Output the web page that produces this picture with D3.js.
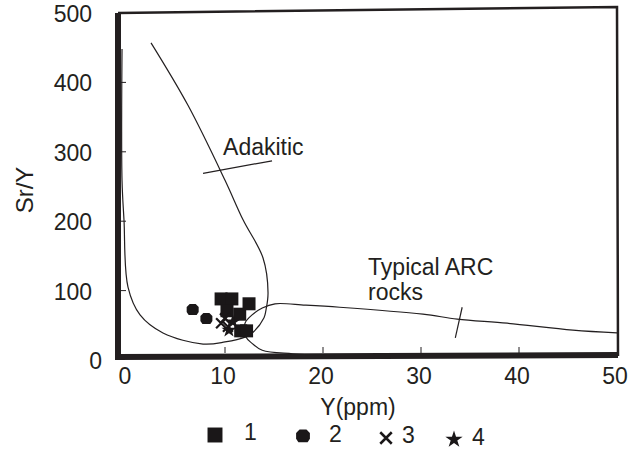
<!DOCTYPE html>
<html>
<head>
<meta charset="utf-8">
<script src="https://cdn.jsdelivr.net/npm/d3@7"></script>
<style>
  body { margin: 0; background: #fff; }
  svg { display: block; }
  text { font-family: "Liberation Sans", Arial, sans-serif; fill: #231f20; }
  .field { fill: none; stroke: #231f20; stroke-width: 1.2; }
</style>
</head>
<body>
<svg width="628" height="450"></svg>
<script>
// ticks
const xTicks = [0, 10, 20, 30, 40, 50]
const yTicks = [0, 100, 200, 300, 400, 500]

// field boundaries, [Y ppm, Sr/Y]
const adakiticBoundary = [
  [2.45, 457], [6.22, 367], [10.0, 259], [11.84, 202], [13.88, 147], [14.39, 97],
  [14.18, 72], [13.98, 61], [12.86, 40], [12.04, 33], [10.0, 26], [7.76, 23],
  [3.67, 39], [1.33, 65], [0.1, 105], [-0.31, 202], [-0.51, 259], [-0.51, 448]
]
const arcBoundary = [
  [50, 39], [45.5, 43], [38.8, 53], [33.7, 59], [30.2, 66], [21.7, 76], [18.2, 79],
  [15.1, 81], [13.8, 75], [12.76, 65], [12.04, 53], [12.14, 33], [12.76, 24],
  [13.8, 14], [16.9, 9], [21.2, 6]
]
const adakiticTick = [[7.76, 269], [14.8, 287]]
const arcTick = [[34.2, 76], [33.5, 32]]

// samples
const group1 = [[9.6, 88], [10.7, 88], [10.2, 71], [11.5, 66], [12.45, 81], [11.6, 42], [12.2, 42]]
const group2 = [[6.7, 72], [8.1, 59]]
const group3 = [[9.6, 53], [10.3, 48], [10.0, 60]]
const group4 = [[10.4, 43], [10.8, 55]]

const legendLabels = ["1", "2", "3", "4"]

const svg = d3.select("svg")

const x = d3.scaleLinear().domain([-0.92, 50]).range([118, 617])
const y = d3.scaleLinear().domain([0, 500]).range([360, 13])

const line = d3.line()
  .x(d => x(d[0]))
  .y(d => y(d[1]))
  .curve(d3.curveCatmullRom.alpha(0.5))

// frame (scan is a little tilted)
svg.append("path")
  .attr("d", "M118,13 L617,7 L618,356")
  .attr("fill", "none")
  .attr("stroke", "#231f20")
  .attr("stroke-width", 2.5)
svg.append("path")
  .attr("d", "M118,13 L118,357 L618,355")
  .attr("fill", "none")
  .attr("stroke", "#231f20")
  .attr("stroke-width", 6)

// inner ticks
svg.selectAll("line.xtick")
  .data(xTicks.slice(1, -1))
  .enter()
  .append("line")
  .attr("class", "xtick")
  .attr("x1", d => x(d)).attr("x2", d => x(d))
  .attr("y1", 353).attr("y2", 347)
  .attr("stroke", "#231f20")

svg.selectAll("line.ytick")
  .data(yTicks.slice(1, -1))
  .enter()
  .append("line")
  .attr("class", "ytick")
  .attr("x1", 120).attr("x2", 126)
  .attr("y1", d => y(d)).attr("y2", d => y(d))
  .attr("stroke", "#231f20")

// tick labels
svg.selectAll("text.xlab")
  .data(xTicks)
  .enter()
  .append("text")
  .attr("class", "xlab")
  .attr("x", d => x(d) - 2)
  .attr("y", 384)
  .attr("text-anchor", "middle")
  .attr("font-size", 23)
  .text(d => d)

svg.selectAll("text.ylab")
  .data(yTicks)
  .enter()
  .append("text")
  .attr("class", "ylab")
  .attr("x", d => d === 0 ? 102 : 92)
  .attr("y", d => y(d) + 9)
  .attr("text-anchor", "end")
  .attr("font-size", 23)
  .text(d => d)

// axis titles
svg.append("text")
  .attr("transform", "translate(33,190) rotate(-90)")
  .attr("text-anchor", "middle")
  .attr("font-size", 24)
  .text("Sr/Y")

svg.append("text")
  .attr("x", 358)
  .attr("y", 415)
  .attr("text-anchor", "middle")
  .attr("font-size", 23)
  .text("Y(ppm)")

// fields
svg.append("path").attr("class", "field").attr("d", line(adakiticBoundary))
svg.append("path").attr("class", "field").attr("d", line(arcBoundary))
svg.append("path").attr("class", "field").attr("d", d3.line().x(d => x(d[0])).y(d => y(d[1]))(adakiticTick))
svg.append("path").attr("class", "field").attr("d", d3.line().x(d => x(d[0])).y(d => y(d[1]))(arcTick))

svg.append("text")
  .attr("x", x(9.8)).attr("y", y(295))
  .attr("font-size", 23)
  .text("Adakitic")

svg.append("text")
  .attr("x", x(24.6)).attr("y", y(122))
  .attr("font-size", 23)
  .text("Typical ARC")
svg.append("text")
  .attr("x", x(24.6)).attr("y", y(86))
  .attr("font-size", 23)
  .text("rocks")

// marker shapes
const octagon = "M-3,-6 L3,-6 L6,-3 L6,2 L4,5 L-4,5 L-6,2 L-6,-3 Z"
const cross = "M-5,-5 L5,5 M-5,5 L5,-5"
const star = d3.symbol(d3.symbolStar, 70)()

function drawMarker(sel, kind, k) {
  const g = sel.append("g").attr("transform", `scale(${k})`)
  if (kind === "1") {
    g.append("rect").attr("x", -6.5).attr("y", -6.5).attr("width", 13).attr("height", 13).attr("fill", "#1a1718")
  } else if (kind === "2") {
    g.append("path").attr("d", octagon).attr("fill", "#1a1718")
  } else if (kind === "3") {
    g.append("path").attr("d", cross).attr("stroke", "#1a1718").attr("stroke-width", 2.2).attr("fill", "none")
  } else {
    g.append("path").attr("d", star).attr("fill", "#1a1718")
  }
}

const groups = [group1, group2, group3, group4]
groups.forEach((pts, i) => {
  svg.selectAll("g.s" + i)
    .data(pts)
    .enter()
    .append("g")
    .attr("class", "s" + i)
    .attr("transform", d => `translate(${x(d[0])}, ${y(d[1])})`)
    .each(function() { drawMarker(d3.select(this), legendLabels[i], 1) })
})

// legend
const legendX = d3.scaleOrdinal().domain(legendLabels).range([215, 303, 386, 454])

const items = svg.selectAll("g.legend")
  .data(legendLabels)
  .enter()
  .append("g")
  .attr("class", "legend")
  .attr("transform", (d, i) => `translate(${legendX(d)}, ${435 + i * 1.5})`)

items.each(function(d) { drawMarker(d3.select(this), d, 1.15) })

items.append("text")
  .attr("x", (d, i) => [29, 26, 16, 18][i])
  .attr("y", 5)
  .attr("font-size", 23)
  .text(d => d)
</script>
</body>
</html>
